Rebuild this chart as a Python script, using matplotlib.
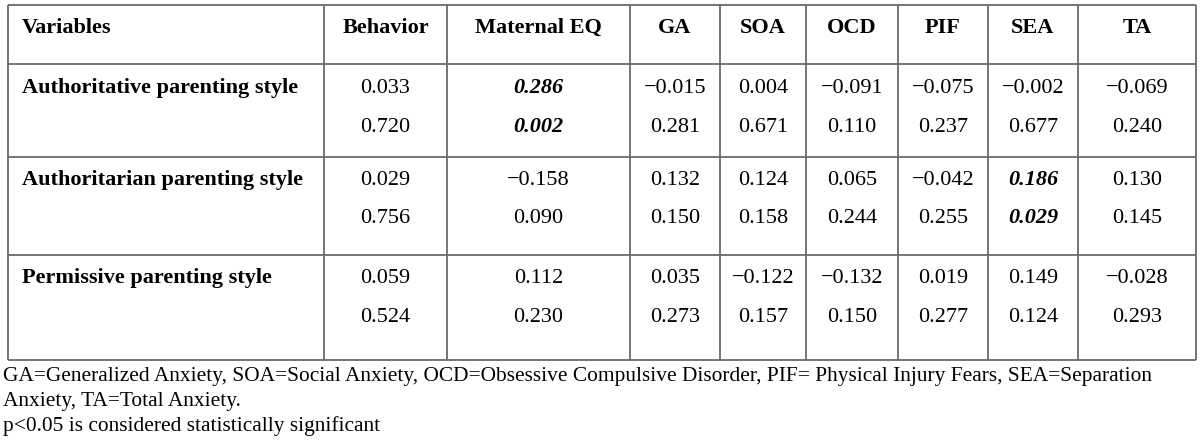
import matplotlib
matplotlib.use('Agg')
import matplotlib.pyplot as plt

# Table content
columns = ['Variables', 'Behavior', 'Maternal EQ', 'GA', 'SOA', 'OCD', 'PIF', 'SEA', 'TA']
row_labels = ['Authoritative parenting style',
              'Authoritarian parenting style',
              'Permissive parenting style']

# correlation coefficients (r) per row
r_authoritative = ['0.033', '0.286', '\u22120.015', '0.004', '\u22120.091', '\u22120.075', '\u22120.002', '\u22120.069']
r_authoritarian = ['0.029', '\u22120.158', '0.132', '0.124', '0.065', '\u22120.042', '0.186', '0.130']
r_permissive = ['0.059', '0.112', '0.035', '\u22120.122', '\u22120.132', '0.019', '0.149', '\u22120.028']

# p-values per row
p_authoritative = ['0.720', '0.002', '0.281', '0.671', '0.110', '0.237', '0.677', '0.240']
p_authoritarian = ['0.756', '0.090', '0.150', '0.158', '0.244', '0.255', '0.029', '0.145']
p_permissive = ['0.524', '0.230', '0.273', '0.157', '0.150', '0.277', '0.124', '0.293']

# significant cells (row index, column index into the value lists)
significant = [(0, 1), (1, 6)]

footnotes = ['GA=Generalized Anxiety, SOA=Social Anxiety, OCD=Obsessive Compulsive Disorder, PIF= Physical Injury Fears, SEA=Separation',
             'Anxiety, TA=Total Anxiety.',
             'p<0.05 is considered statistically significant']

# Layout (pixel coordinates)
col_edges = [8, 324, 447, 630, 720, 806, 898, 988, 1078, 1196]
row_edges = [5, 64, 157, 255, 360]
header_baseline = 33
value_baselines = [(93, 132), (185, 223), (283, 322)]
foot_baselines = [381, 406, 431]
fsize = 16
foot_size = 15.4
line_color = '#6a6a6a'


def draw_table(ax):
    r_rows = [r_authoritative, r_authoritarian, r_permissive]
    p_rows = [p_authoritative, p_authoritarian, p_permissive]

    # grid
    ax.hlines(row_edges, col_edges[0], col_edges[-1], color=line_color, lw=1.3)
    ax.vlines(col_edges, row_edges[0], row_edges[-1], color=line_color, lw=1.3)

    # header
    ax.text(col_edges[0] + 14, header_baseline, columns[0], fontsize=fsize,
            fontweight='bold', va='baseline', ha='left')
    for j, name in enumerate(columns[1:]):
        xc = (col_edges[j + 1] + col_edges[j + 2]) / 2
        ax.text(xc, header_baseline, name, fontsize=fsize, fontweight='bold',
                va='baseline', ha='center')

    # body
    for i, label in enumerate(row_labels):
        y_r, y_p = value_baselines[i]
        ax.text(col_edges[0] + 14, y_r, label, fontsize=fsize, fontweight='bold',
                va='baseline', ha='left')
        for j in range(len(r_rows[i])):
            xc = (col_edges[j + 1] + col_edges[j + 2]) / 2
            if (i, j) in significant:
                kw = dict(fontweight='bold', fontstyle='italic')
            else:
                kw = dict()
            ax.text(xc, y_r, r_rows[i][j], fontsize=fsize, va='baseline', ha='center', **kw)
            ax.text(xc, y_p, p_rows[i][j], fontsize=fsize, va='baseline', ha='center', **kw)

    # footnotes
    for k, line in enumerate(footnotes):
        ax.text(3, foot_baselines[k], line, fontsize=foot_size, va='baseline', ha='left')


def main():
    plt.rcParams['font.family'] = ['Liberation Serif', 'DejaVu Serif']
    fig = plt.figure(figsize=(12, 4.4), dpi=100)
    ax = fig.add_axes([0, 0, 1, 1])
    ax.set_xlim(0, 1200)
    ax.set_ylim(440, 0)
    ax.axis('off')
    draw_table(ax)
    fig.savefig('out.png', dpi=100, facecolor='white')


if __name__ == '__main__':
    main()
